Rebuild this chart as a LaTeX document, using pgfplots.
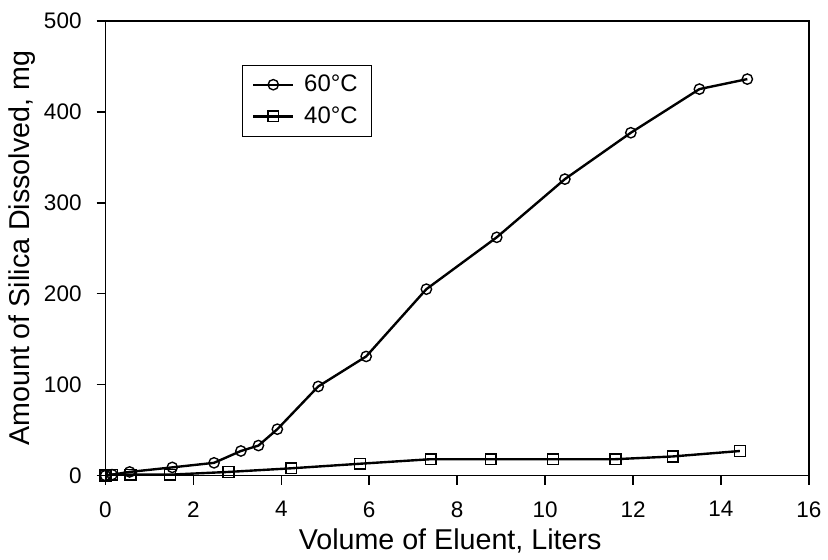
\documentclass[border=0pt]{standalone}
\usepackage{fontspec}
\setmainfont{Liberation Sans}
\usepackage{pgfplots}
\pgfplotsset{compat=1.18}
\begin{document}
\begin{tikzpicture}
\begin{axis}[
    scale only axis,
    width=353.5pt, height=228.5pt,
    xmin=0, xmax=16, ymin=0, ymax=500,
    xtick={0,2,...,16}, ytick={0,100,...,500},
    tick align=outside, major tick length=4.5pt,
    xtick pos=bottom, ytick pos=left,
    axis line style={line width=0.9pt},
    every tick/.style={line width=0.8pt, black},
    tick label style={font=\fontsize{11.3}{13}\selectfont},
    xticklabel style={yshift=-5pt},
    yticklabel style={xshift=-4pt},
    /pgf/number format/assume math mode=true,
    xlabel={Volume of Eluent, Liters},
    ylabel={Amount of Silica Dissolved, mg},
    label style={font=\fontsize{14.4}{16}\selectfont},
    xlabel style={at={(axis description cs:0.49,0)}, anchor=base, yshift=-37pt},
    ylabel style={at={(axis description cs:-0.1075,0.5)}, anchor=base},
    clip=false,
    legend image code/.code={
        \draw[mark repeat=2, mark phase=2] plot coordinates {(0cm,0cm) (0.35cm,0cm) (0.7cm,0cm)};},
    legend style={at={(rel axis cs:0.194,0.904)}, anchor=north west,
        font=\fontsize{12}{14}\selectfont, draw=black,
        inner xsep=5pt, inner ysep=3pt, row sep=2pt, column sep=3pt},
    legend cell align=left,
]
\addplot[black, line width=1.2pt, mark=o, mark size=2.6pt,
    mark options={fill=white, line width=0.7pt}] coordinates {
    (0,0) (0.15,1) (0.55,4) (1.52,9) (2.47,14) (3.08,27) (3.48,33) (3.91,51)
    (4.84,98) (5.93,131) (7.3,205) (8.9,262) (10.45,326) (11.95,377)
    (13.51,425) (14.6,436)};
\addlegendentry{60°C}
\addplot[black, line width=1.2pt, mark=square, mark size=2.7pt,
    mark options={fill=white, line width=0.7pt}] coordinates {
    (0,0) (0.15,1) (0.57,1) (1.47,1) (2.8,4) (4.23,8) (5.79,13)
    (7.4,18) (8.76,18) (10.18,18) (11.6,18) (12.9,21) (14.43,27)};
\addlegendentry{40°C}
\end{axis}
\path (current axis.south west) ++(-53pt,-39pt) (current axis.north east) ++(7.5pt,10.5pt);
\end{tikzpicture}
\end{document}
